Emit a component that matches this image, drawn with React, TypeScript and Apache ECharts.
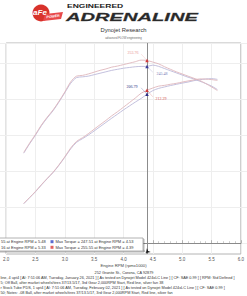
import React, { useEffect, useRef } from "react";
import * as echarts from "echarts";

// Engine RPM (x1000)
const rpm = [2.3, 2.4, 2.5, 2.6, 2.7, 2.8, 2.9, 3.0, 3.1, 3.2, 3.3, 3.4, 3.5, 3.6, 3.7, 3.8, 3.9, 4.0, 4.1, 4.2, 4.3, 4.4, 4.5, 4.6, 4.7, 4.8, 4.9, 5.0, 5.1, 5.2, 5.3, 5.4, 5.5, 5.6];
// Run 1 (blue)
const torqueRun1 = [125, 138, 150, 163, 174, 184, 196, 209, 222, 230, 231, 232, 234, 236, 238, 240, 241.5, 243, 244, 245, 245.5, 245.48, 247.3, 245.5, 242.5, 239.5, 236.5, 233.5, 230.5, 228, 224.9, 221.8, 218.2, 213.4];
const powerRun1 = [54.7, 63.1, 71.4, 80.7, 89.5, 98.1, 108.2, 119.4, 131.0, 140.1, 145.1, 150.2, 155.9, 161.8, 167.7, 173.6, 179.3, 185.1, 190.5, 195.9, 201.0, 206.79, 211.9, 215.0, 217.0, 218.9, 220.6, 222.3, 223.8, 225.7, 227.0, 228.0, 228.5, 227.5];
// Run 2 (red)
const torqueRun2 = [126, 139, 151, 164, 175, 185, 197, 210, 224, 232, 233, 235, 237.5, 240, 242, 244.5, 246, 248, 250, 252, 254.2, 253.76, 251.5, 249, 245, 241.5, 238, 235, 232, 229, 226, 221.7, 217, 212];
const powerRun2 = [55.2, 63.5, 71.9, 81.2, 90.0, 98.6, 108.8, 120.0, 132.2, 141.4, 146.4, 152.1, 158.3, 164.5, 170.5, 176.9, 182.7, 188.9, 195.2, 201.5, 208.2, 212.29, 215.5, 218.1, 219.2, 220.7, 222.0, 223.7, 225.3, 226.7, 228.1, 227.9, 227.2, 226.0];

const cursorRpm = 4.4;
const legendPower = ["55 at Engine RPM = 5.48", "16 at Engine RPM = 5.33"];
const legendTorque = ["Max Torque = 247.51 at Engine RPM = 4.53", "Max Torque = 255.55 at Engine RPM = 4.39"];
const footerLines = [
  "line, 4 upt4 [ Al: 7:51:06 AM, Tuesday, January 26, 2021 ] [ As tested on Dynojet Model 424xLC Line ] [ CF: SAE 0.99 ] [ RPM: Std Defined ]",
  "5; Off Ball, after market wheels/tires 37/13.5/17, 3rd Gear 2,000RPM Start, Red line, silver fan 38",
  "r Stock Tube PDS, 1 upt4 [ Al: 7:51:06 AM, Tuesday, February 02, 2021 ] [ As tested on Dynojet Model 424xLC Line ] [ CF: SAE 0.99 ]",
  "50; Notes: -08 Ball, after market wheels/tires 37/13.5/17, 3rd Gear 2,000RPM Start, Red line, silver fan",
];

const BLUE_LINE = "#bcb9d9";
const RED_LINE = "#dfb7bc";
const FONT = "'Liberation Sans', Arial, sans-serif";

const pair = (xs: number[], ys: number[]) => xs.map((x, i) => [x, ys[i]]);
const ci = rpm.indexOf(cursorRpm);

function callout(value: number, textColor: string, arrowColor: string, offset: number[], lead: number[]) {
  return {
    markPoint: {
      silent: true,
      symbol: "triangle",
      symbolSize: 3.5,
      data: [{ coord: [cursorRpm, value], value: value.toFixed(2), itemStyle: { color: arrowColor } }],
      label: { show: true, position: "inside", formatter: "{c}", offset, fontSize: 4, color: textColor, fontFamily: "'Liberation Serif', serif" },
    },
    markLine: {
      silent: true,
      symbol: ["none", "none"],
      label: { show: false },
      lineStyle: { color: textColor, width: 0.4, type: "solid", opacity: 0.6 },
      data: [[{ coord: [cursorRpm + lead[0], value + lead[1]] }, { coord: [cursorRpm, value] }]],
    },
  };
}

function lineSeries(name: string, data: number[][], color: string, extra: any) {
  return {
    name,
    type: "line",
    data,
    smooth: 0.3,
    showSymbol: false,
    xAxisIndex: 0,
    yAxisIndex: 0,
    lineStyle: { color, width: 0.9 },
    itemStyle: { color },
    ...extra,
  };
}

export default function App() {
  const ref = useRef<HTMLDivElement>(null);
  useEffect(() => {
    if (!ref.current) return;
    const chart = echarts.init(ref.current, undefined, { renderer: "svg" });
    const option: any = {
      animation: false,
      backgroundColor: "#ffffff",
      textStyle: { fontFamily: FONT },
      grid: [
        { left: -26, right: -38, top: 43, bottom: 42, show: true, borderColor: "#b4b4b4", borderWidth: 1, backgroundColor: "transparent" },
        { left: -26, right: -38, top: 43, bottom: 53, show: false },
      ],
      xAxis: [
        {
          type: "value",
          gridIndex: 0,
          min: 2.0,
          max: 6.0,
          interval: 0.5,
          axisLine: { show: true, lineStyle: { color: "#8a8a8a", width: 1 } },
          axisTick: { show: true, inside: true, length: 3, lineStyle: { color: "#8a8a8a", width: 0.6 } },
          minorTick: { show: true, splitNumber: 5, length: 2, lineStyle: { color: "#9a9a9a", width: 0.5 } },
          axisLabel: { fontSize: 4.5, color: "#555", margin: 3, formatter: (v: number) => v.toFixed(1) },
          splitLine: { show: true, lineStyle: { color: "#eeeeee", width: 1 } },
        },
        { type: "value", gridIndex: 1, min: 2.0, max: 6.0, show: false },
      ],
      yAxis: [
        { type: "value", gridIndex: 0, min: -15, max: 278, show: false },
        {
          type: "value",
          gridIndex: 1,
          min: 0,
          max: 278,
          interval: 50,
          axisLine: { show: false },
          axisTick: { show: false },
          axisLabel: { show: false },
          splitLine: { show: true, lineStyle: { color: "#eeeeee", width: 1 } },
        },
      ],
      series: [
        lineSeries("Torque Run 1", pair(rpm, torqueRun1), BLUE_LINE, callout(torqueRun1[ci], "#7674b6", "#3a3a98", [15, 7], [0.1, -8])),
        lineSeries("Power Run 1", pair(rpm, powerRun1), BLUE_LINE, callout(powerRun1[ci], "#2c2c84", "#2c2c84", [-15, -8], [-0.1, 9])),
        lineSeries("Torque Run 2", pair(rpm, torqueRun2), RED_LINE, callout(torqueRun2[ci], "#e89090", "#d03838", [-14, -8], [-0.1, 9])),
        lineSeries("Power Run 2", pair(rpm, powerRun2), RED_LINE, callout(powerRun2[ci], "#d45050", "#d03838", [14, 8], [0.1, -9])),
        {
          name: "cursor",
          type: "line",
          data: [[cursorRpm, -15]],
          showSymbol: false,
          lineStyle: { width: 0 },
          xAxisIndex: 0,
          yAxisIndex: 0,
          markLine: {
            silent: true,
            symbol: ["none", "none"],
            label: { show: false },
            lineStyle: { color: "#8c8c8c", width: 1, type: "solid" },
            data: [
              { xAxis: cursorRpm },
              [
                { coord: [cursorRpm - 0.09, -6.5], lineStyle: { color: "#555", width: 0.5, type: "dashed" } },
                { coord: [cursorRpm, -15], lineStyle: { color: "#555", width: 0.5, type: "dashed" } },
              ],
            ],
          },
          markPoint: {
            silent: true,
            symbol: "arrow",
            symbolSize: 4,
            symbolRotate: 135,
            symbolOffset: [-1, -1],
            itemStyle: { color: "#111" },
            data: [{ coord: [cursorRpm, -15], value: cursorRpm.toFixed(1) }],
            label: { show: true, position: "inside", formatter: "{c}", offset: [-9, -10], fontSize: 4.2, color: "#333" },
          },
        },
      ],
      graphic: [
        // logo
        { type: "circle", shape: { cx: 41, cy: 13, r: 8.5 }, style: { fill: "#d8322b" }, z: 10 },
        { type: "text", x: 40, y: 12, style: { text: "aFe", fill: "#fff", fontSize: 8, fontWeight: "bold", fontStyle: "italic", fontFamily: FONT, textAlign: "center", textVerticalAlign: "middle" }, z: 11 },
        { type: "polygon", shape: { points: [[45, 14], [63, 12], [61, 19], [43, 21]] }, style: { fill: "#e8494a" }, z: 10 },
        { type: "text", x: 53, y: 16.5, rotation: 0.12, style: { text: "POWER", fill: "#fff", fontSize: 3.5, fontWeight: "bold", fontStyle: "italic", fontFamily: FONT, textAlign: "center", textVerticalAlign: "middle" }, z: 11 },
        { type: "text", x: 67, y: 6.3, scaleX: 1.55, style: { text: "ENGINEERED", fill: "#222", fontSize: 5.5, fontWeight: "bold", fontFamily: FONT, textAlign: "left", textVerticalAlign: "middle" }, z: 10 },
        { type: "text", x: 66, y: 16.8, scaleX: 1.75, style: { text: "ADRENALINE", fill: "#2a2a2a", stroke: "#777", lineWidth: 0.3, fontSize: 11.5, fontWeight: 900, fontStyle: "italic", fontFamily: FONT, textAlign: "left", textVerticalAlign: "middle" }, z: 10 },
        { type: "text", x: 123.5, y: 30, style: { text: "Dynojet Research", fill: "#333", fontSize: 5.8, fontFamily: FONT, textAlign: "center", textVerticalAlign: "middle" }, z: 10 },
        { type: "text", x: 123.5, y: 37.5, style: { text: "advanced FLOW engineering", fill: "#666", fontSize: 2.8, fontFamily: FONT, textAlign: "center", textVerticalAlign: "middle" }, z: 10 },
        // legend box
        { type: "rect", shape: { x: -4, y: 238, width: 147, height: 13 }, style: { fill: "#fff", stroke: "#a0a0a0", lineWidth: 0.8, shadowBlur: 1.5, shadowColor: "rgba(0,0,0,0.35)", shadowOffsetX: 1, shadowOffsetY: 1 }, z: 20 },
        { type: "text", x: 1, y: 241.7, style: { text: legendPower[0], fill: "#333", fontSize: 4, fontFamily: FONT, textAlign: "left", textVerticalAlign: "middle" }, z: 21 },
        { type: "text", x: 1, y: 247.3, style: { text: legendPower[1], fill: "#333", fontSize: 4, fontFamily: FONT, textAlign: "left", textVerticalAlign: "middle" }, z: 21 },
        { type: "rect", shape: { x: 50.5, y: 240.2, width: 3, height: 3 }, style: { fill: "#5b6bd0" }, z: 21 },
        { type: "rect", shape: { x: 50.5, y: 245.8, width: 3, height: 3 }, style: { fill: "#e06262" }, z: 21 },
        { type: "text", x: 55.5, y: 241.7, style: { text: legendTorque[0], fill: "#333", fontSize: 4, fontFamily: FONT, textAlign: "left", textVerticalAlign: "middle" }, z: 21 },
        { type: "text", x: 55.5, y: 247.3, style: { text: legendTorque[1], fill: "#333", fontSize: 4, fontFamily: FONT, textAlign: "left", textVerticalAlign: "middle" }, z: 21 },
        // axis name and footer
        { type: "text", x: 123.5, y: 265.5, style: { text: "Engine RPM (rpmx1000)", fill: "#444", fontSize: 4.2, fontFamily: FONT, textAlign: "center", textVerticalAlign: "middle" }, z: 10 },
        { type: "text", x: 124, y: 273, style: { text: "252 Granite St., Corona, CA 92879", fill: "#333", fontSize: 3.8, fontFamily: FONT, textAlign: "center", textVerticalAlign: "middle" }, z: 10 },
        { type: "text", x: 0.5, y: 278, style: { text: footerLines[0], fill: "#333", fontSize: 3.8, fontFamily: FONT, textAlign: "left", textVerticalAlign: "middle" }, z: 10 },
        { type: "text", x: 0.5, y: 282.8, style: { text: footerLines[1], fill: "#333", fontSize: 3.8, fontFamily: FONT, textAlign: "left", textVerticalAlign: "middle" }, z: 10 },
        { type: "text", x: 0.5, y: 288, style: { text: footerLines[2], fill: "#333", fontSize: 3.8, fontFamily: FONT, textAlign: "left", textVerticalAlign: "middle" }, z: 10 },
        { type: "text", x: 0.5, y: 292.6, style: { text: footerLines[3], fill: "#333", fontSize: 3.8, fontFamily: FONT, textAlign: "left", textVerticalAlign: "middle" }, z: 10 },
      ],
    };
    chart.setOption(option);
    return () => chart.dispose();
  }, []);
  return <div ref={ref} style={{ position: "absolute", left: 0, top: 0, width: 247, height: 296, background: "#fff" }} />;
}
